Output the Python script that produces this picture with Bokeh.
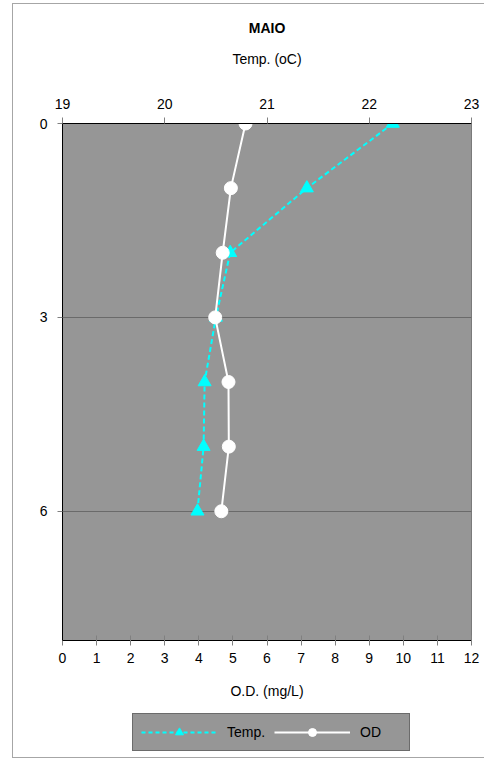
from bokeh.plotting import figure
from bokeh.layouts import column
from bokeh.models import Range1d, LinearAxis, FixedTicker, Legend, LegendItem, Title
from bokeh.embed import file_html
from bokeh.resources import INLINE

# ---- data ----
depth = [0, 1, 2, 3, 4, 5, 6]
temp_values = [22.23, 21.39, 20.64, 20.50, 20.39, 20.38, 20.32]
od_values = [5.37, 4.94, 4.70, 4.48, 4.87, 4.88, 4.66]
od_ticks = list(range(0, 13))
temp_ticks = [19, 20, 21, 22, 23]
depth_ticks = [0, 3, 6]
grid_ticks = [3, 6]
title_text = "MAIO"
temp_label = "Temp. (oC)"
od_label = "O.D. (mg/L)"
series_names = ["Temp.", "OD"]

FONT = "Liberation Sans"
CYAN = "#00FFFF"
W = 471
NAN = float("nan")

p = figure(width=W, height=701,
           x_range=Range1d(0, 12), y_range=Range1d(8, 0),
           output_backend="svg", toolbar_location=None, title=None,
           min_border_left=49, min_border_right=13,
           min_border_top=119, min_border_bottom=65,
           background_fill_color="#969696", border_fill_color="white",
           outline_line_color="#7a7a7a")

p.extra_x_ranges = {"temp": Range1d(19, 23)}

def style_axis(ax):
    ax.axis_line_color = "black"
    ax.axis_line_width = 1
    ax.major_tick_line_color = "#808080"
    ax.minor_tick_line_color = None
    ax.major_label_text_font = FONT
    ax.major_label_text_font_size = "14px"
    ax.major_label_text_color = "black"
    ax.axis_label_text_font = FONT
    ax.axis_label_text_font_size = "14px"
    ax.axis_label_text_font_style = "normal"
    ax.axis_label_text_color = "black"

# bottom axis (O.D.)
xb = p.below[0]
xb.ticker = FixedTicker(ticks=od_ticks)
xb.axis_label = od_label
style_axis(xb)
xb.major_tick_in = 5
xb.major_tick_out = 5
xb.major_label_standoff = 7
xb.axis_label_standoff = 17

# left axis (depth)
yl = p.left[0]
yl.ticker = FixedTicker(ticks=depth_ticks)
style_axis(yl)
yl.major_tick_in = 0
yl.major_tick_out = 5
yl.major_label_standoff = 10

# top axis (temperature)
xt = LinearAxis(x_range_name="temp", ticker=FixedTicker(ticks=temp_ticks), axis_label=temp_label)
style_axis(xt)
xt.major_tick_in = 0
xt.major_tick_out = 6
xt.major_label_standoff = 9
xt.axis_label_standoff = 29
p.add_layout(xt, "above")

p.add_layout(Title(text=title_text, align="center", offset=-20, standoff=24,
                   text_font=FONT, text_font_size="14px", text_font_style="bold",
                   text_color="black"), "above")

p.xgrid.visible = False
p.ygrid.ticker = FixedTicker(ticks=grid_ticks)
p.ygrid.grid_line_color = "#6a6a6a"
p.ygrid.grid_line_width = 1

# series
p.line(temp_values, depth, x_range_name="temp", line_color=CYAN,
       line_width=2, line_dash="5 3")
p.scatter(temp_values, depth, x_range_name="temp", marker="triangle", size=13,
          fill_color=CYAN, line_color=CYAN)
p.line(od_values, depth, line_color="white", line_width=2)
p.scatter(od_values, depth, marker="circle", size=13,
          fill_color="white", line_color="white")

# legend strip below the chart (legend keys only; NaN so nothing is plotted)
pl = figure(width=W, height=52, x_range=Range1d(0, 1), y_range=Range1d(0, 1),
            output_backend="svg", toolbar_location=None, title=None,
            x_axis_type=None, y_axis_type=None,
            min_border_left=0, min_border_right=0, min_border_top=0, min_border_bottom=0,
            background_fill_color="white", border_fill_color="white",
            outline_line_color=None)
pl.xgrid.visible = False
pl.ygrid.visible = False
k_tl = pl.line([NAN], [NAN], line_color=CYAN, line_width=2, line_dash="4 3")
k_tp = pl.scatter([NAN], [NAN], marker="triangle", size=15, fill_color=CYAN, line_color=CYAN)
k_ol = pl.line([NAN], [NAN], line_color="white", line_width=2)
k_op = pl.scatter([NAN], [NAN], marker="circle", size=15, fill_color="white", line_color="white")

legend = Legend(items=[LegendItem(label=series_names[0], renderers=[k_tl, k_tp]),
                       LegendItem(label=series_names[1], renderers=[k_ol, k_op])],
                orientation="horizontal", location=(70, 6),
                background_fill_color="#969696", background_fill_alpha=1,
                border_line_color="#404040", border_line_width=1,
                padding=8, spacing=6, glyph_width=76, glyph_height=20,
                label_width=41, label_height=20, label_standoff=10,
                label_text_font=FONT, label_text_font_size="14px",
                label_text_color="black", margin=0)
pl.add_layout(legend, "center")

layout = column(p, pl, spacing=0,
                styles={"border-left": "1px solid #a6a6a6", "border-top": "1px solid #a6a6a6",
                        "border-bottom": "1px solid #a6a6a6",
                        "margin-left": "12px", "margin-top": "3px"})

open("out.html", "w").write(file_html(layout, INLINE))
